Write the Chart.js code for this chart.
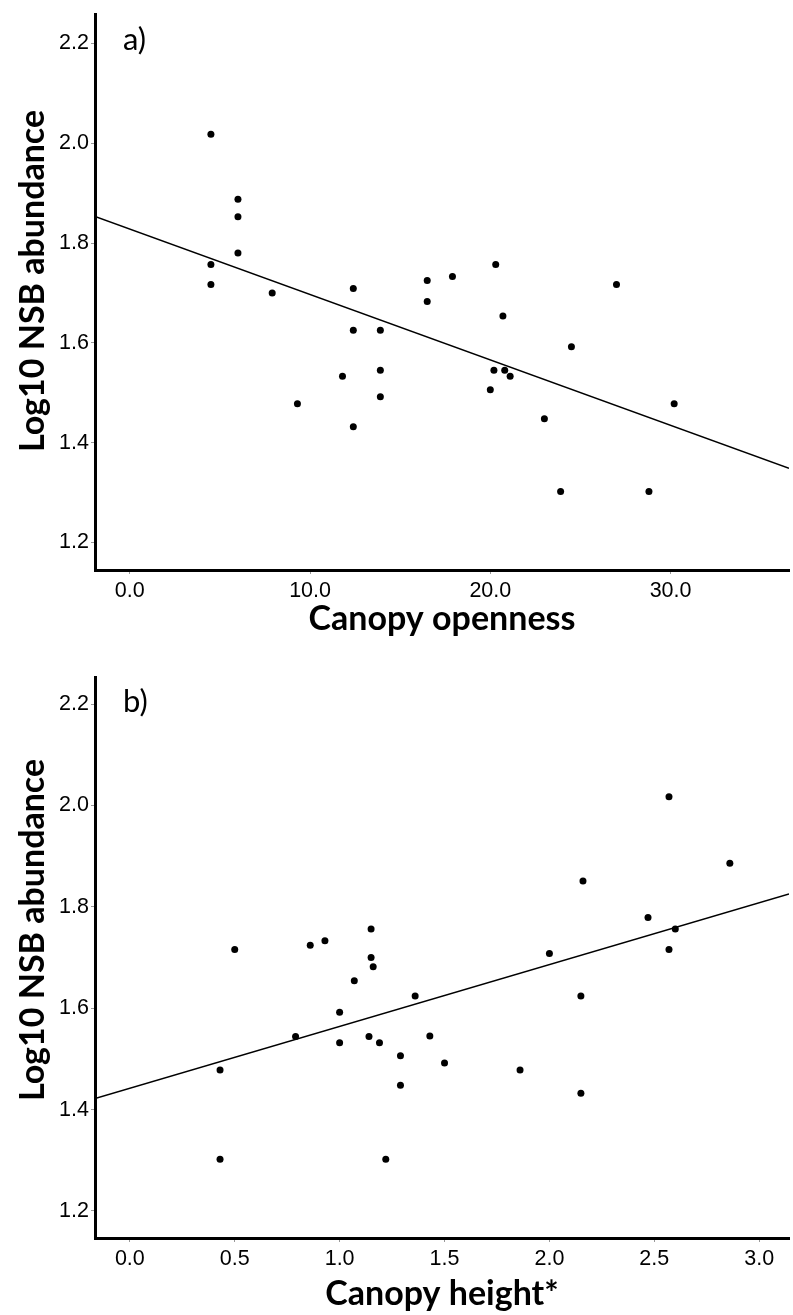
<!DOCTYPE html>
<html>
<head>
<meta charset="utf-8">
<script src="https://cdn.jsdelivr.net/npm/chart.js@4.4.1/dist/chart.umd.min.js"></script>
<style>
  body { margin: 0; background: #fff; }
  #wrap { position: relative; width: 793px; height: 1315px; }
  .panel { position: absolute; left: 0; width: 793px; }
  #panelA { top: 0; height: 650px; }
  #panelB { top: 650px; height: 665px; }
</style>
</head>
<body>
<div id="wrap">
  <div class="panel" id="panelA"><canvas id="chartA" width="793" height="650"></canvas></div>
  <div class="panel" id="panelB"><canvas id="chartB" width="793" height="665"></canvas></div>
</div>
<script>
// a) canopy openness
let opennessX = [4.5, 6.0, 6.0, 6.0, 4.5, 4.5, 7.9, 12.4, 16.5, 17.9, 20.3, 16.5, 20.7, 27.0, 12.4,
                 13.9, 13.9, 11.8, 13.9, 9.3, 12.4, 24.5, 20.2, 20.8, 21.1, 20.0, 23.0, 30.2, 23.9, 28.8];
let opennessY = [2.018, 1.888, 1.853, 1.780, 1.757, 1.717, 1.700, 1.709, 1.725, 1.733, 1.757, 1.683, 1.654, 1.717, 1.625,
                 1.625, 1.545, 1.533, 1.492, 1.478, 1.432, 1.592, 1.545, 1.545, 1.533, 1.506, 1.448, 1.478, 1.302, 1.302];
let opennessFit = { intercept: 1.828, slope: -0.01311 };
let opennessRange = [-1.93, 36.57];
let opennessTicks = [0, 10, 20, 30];

// b) canopy height
let heightX = [0.50, 0.86, 0.93, 1.15, 1.15, 1.16, 1.07, 2.57, 2.86, 2.16, 2.47, 2.60, 2.57, 2.00, 1.00,
               0.79, 1.00, 1.14, 1.19, 0.43, 0.43, 1.22, 1.36, 2.15, 1.43, 1.29, 1.50, 1.86, 1.29, 2.15];
let heightY = [1.716, 1.724, 1.733, 1.756, 1.700, 1.682, 1.654, 2.017, 1.886, 1.851, 1.779, 1.756, 1.716, 1.708, 1.592,
               1.544, 1.532, 1.544, 1.532, 1.478, 1.302, 1.302, 1.624, 1.624, 1.545, 1.506, 1.492, 1.478, 1.448, 1.432];
let heightFit = { intercept: 1.442, slope: 0.122 };
let heightRange = [-0.166, 3.142];
let heightTicks = [0, 0.5, 1, 1.5, 2, 2.5, 3];

let abundanceTicks = [1.2, 1.4, 1.6, 1.8, 2.0, 2.2];

// panel letter + rotated y title
const panelText = {
  id: 'panelText',
  afterDraw(chart, args, opts) {
    const ctx = chart.ctx;
    const area = chart.chartArea;
    ctx.save();
    ctx.fillStyle = '#000';
    ctx.textBaseline = 'alphabetic';
    ctx.font = '31px Lato';
    ctx.fillText(opts.letter, area.left + 28, area.top + 35);
    ctx.translate(opts.titleX, opts.titleY);
    ctx.rotate(-Math.PI / 2);
    ctx.textAlign = 'center';
    ctx.font = 'bold 34px Lato';
    ctx.fillText(opts.yTitle, 0, 0);
    ctx.restore();
  }
};

function makeChart(id, xs, ys, fit, range, xTicks, opt) {
  let points = xs.map((x, i) => ({ x: x, y: ys[i] }));
  let line = range.map(x => ({ x: x, y: fit.intercept + fit.slope * x }));

  return new Chart(document.getElementById(id), {
    type: 'scatter',
    data: {
      datasets: [
        {
          data: points,
          backgroundColor: '#000',
          borderWidth: 0,
          pointRadius: 3.5
        },
        {
          type: 'line',
          data: line,
          borderColor: '#000',
          borderWidth: 1.4,
          pointRadius: 0,
          fill: false
        }
      ]
    },
    options: {
      responsive: false,
      animation: false,
      layout: { padding: { top: opt.top, left: 0, right: 0, bottom: 0 } },
      plugins: {
        legend: { display: false },
        tooltip: { enabled: false },
        panelText: { letter: opt.letter, yTitle: 'Log10 NSB abundance', titleX: 44, titleY: opt.titleY }
      },
      scales: {
        x: {
          type: 'linear',
          min: range[0],
          max: range[1],
          afterFit: s => { s.height = opt.xHeight; },
          afterBuildTicks: s => { s.ticks = xTicks.map(v => ({ value: v })); },
          border: { display: true, color: '#000', width: 3 },
          grid: { drawOnChartArea: false, tickLength: 4, tickColor: '#999', tickWidth: 1 },
          ticks: {
            color: '#000',
            padding: 4,
            maxRotation: 0,
            font: { family: 'Liberation Sans', size: 21.5 },
            callback: v => v.toFixed(1)
          },
          title: {
            display: true,
            text: opt.xTitle,
            color: '#000',
            font: { family: 'Lato', size: 34, weight: 'bold' },
            padding: { top: 0, bottom: opt.titlePad }
          }
        },
        y: {
          type: 'linear',
          min: opt.yMin,
          max: opt.yMax,
          afterFit: s => { s.width = 95; },
          afterBuildTicks: s => { s.ticks = abundanceTicks.map(v => ({ value: v })); },
          border: { display: true, color: '#000', width: 3 },
          grid: { drawOnChartArea: false, tickLength: 4, tickColor: '#999', tickWidth: 1 },
          ticks: {
            color: '#000',
            padding: 2,
            font: { family: 'Liberation Sans', size: 21.5 },
            callback: v => v.toFixed(1)
          }
        }
      }
    },
    plugins: [panelText]
  });
}

makeChart('chartA', opennessX, opennessY, opennessFit, opennessRange, opennessTicks, {
  letter: 'a)', xTitle: 'Canopy openness', top: 8, xHeight: 80, titlePad: 11,
  titleY: 281, yMin: 1.1446, yMax: 2.2574
});

makeChart('chartB', heightX, heightY, heightFit, heightRange, heightTicks, {
  letter: 'b)', xTitle: 'Canopy height*', top: 27, xHeight: 77, titlePad: 1,
  titleY: 280, yMin: 1.1467, yMax: 2.2533
});
</script>
</body>
</html>
